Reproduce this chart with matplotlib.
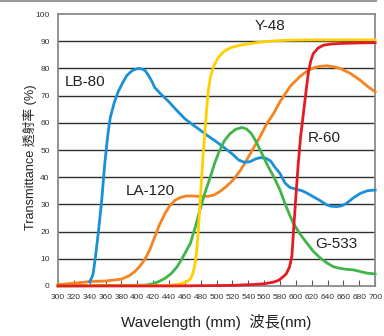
import matplotlib
matplotlib.use('Agg')
import matplotlib.pyplot as plt
from matplotlib import font_manager
from matplotlib.lines import Line2D

# wavelength (nm) / transmittance (%)
lb80_nm = [340, 344, 347, 351, 355, 359, 363, 366, 371, 376, 382, 387, 394, 401, 406, 410, 414, 418, 422,
           430, 439, 450, 460, 470, 479, 490, 500, 509, 520, 528, 535, 542, 549, 555, 562, 568, 574, 580,
           586, 592, 600, 608, 615, 622, 630, 639, 645, 652, 658, 664, 672, 681, 690, 700]
lb80_t = [1.5, 4, 10, 20, 31, 45, 56, 62, 67.5, 71.5, 75, 77.5, 79.3, 80, 79.8, 79.2, 77.5, 75.5, 73,
          70.5, 68, 64.5, 61.5, 59.3, 57.4, 55, 53, 51, 48.5, 46.3, 45.5, 45.7, 46.7, 47.2, 47, 46, 43.5, 41.4,
          38, 36.3, 35.6, 35, 34, 32.8, 31.5, 29.8, 29.3, 29.2, 29.5, 30.4, 32.3, 34, 35, 35.3]

la120_nm = [300, 320, 340, 360, 380, 390, 397, 404, 410, 416, 422, 428, 435, 441, 448, 455, 462, 470, 480,
            490, 497, 504, 512, 521, 530, 538, 546, 555, 563, 572, 580, 593, 605, 614, 622, 630, 639, 648,
            656, 668, 681, 690, 700]
la120_t = [0.5, 1.0, 1.6, 1.8, 2.5, 3.8, 5.3, 7.5, 10, 13.5, 18, 22.5, 26.7, 29.5, 31.6, 32.6, 33.1, 33.1, 32.9,
           33, 33.5, 34.7, 36.5, 39, 42.5, 46.3, 50.5, 55, 59.5, 63.5, 67.8, 73.5, 77, 79, 80.2, 80.8, 81, 80.6,
           80, 78.3, 75.7, 73.5, 71.4]

y48_nm = [300, 440, 455, 462, 467, 470, 473, 475, 477, 479, 481, 483, 485.5, 487.5, 489.6, 492, 496, 502,
          509, 518, 530, 545, 559, 575, 593, 620, 660, 700]
y48_t = [0, 0.2, 0.8, 1.5, 2.5, 4.5, 8.3, 13, 20.6, 30, 39, 48, 57.4, 65, 72, 76.5, 80.6, 84,
         86.2, 87.7, 88.6, 89.3, 89.8, 90.2, 90.4, 90.5, 90.5, 90.5]

g533_nm = [300, 410, 420, 427, 435, 443, 450, 456, 461, 467, 473, 479, 485, 492, 498, 504, 510, 517, 524,
           532, 538, 544, 550, 557, 564, 572, 580, 586, 593, 597, 605, 614, 622, 631, 639, 647, 655, 664,
           673, 681, 690, 700]
g533_t = [0, 0.3, 0.8, 1.6, 2.8, 4.6, 7, 9.8, 12.5, 15.7, 21.5, 28, 34, 40, 45.5, 50, 53.5, 56, 57.6,
          58.3, 57.7, 56, 53, 48.8, 44.5, 40.2, 35.3, 30.5, 25.5, 23, 19.2, 15.7, 12.7, 10.2, 8.5, 7.1, 6.5, 6.1,
          5.9, 5.3, 4.7, 4.4]

r60_nm = [300, 450, 520, 545, 560, 570, 578, 584, 588, 592, 595, 597, 600, 603, 606, 609.5, 613, 616, 619,
          622, 628, 635, 645, 656, 680, 700]
r60_t = [0, 0, 0.2, 0.5, 0.8, 1.3, 2, 3.4, 4.5, 7, 11, 20, 33, 45, 55, 63.5, 72, 79, 83,
         85.5, 87.5, 88.6, 89, 89.2, 89.4, 89.5]

x_ticks = list(range(300, 701, 20))
y_ticks = list(range(0, 101, 10))

installed = {f.name for f in font_manager.fontManager.ttflist}
narrow = 'Liberation Sans Narrow' if 'Liberation Sans Narrow' in installed else 'Liberation Sans'
plt.rcParams['font.family'] = ['Liberation Sans', 'Noto Sans CJK TC', 'DejaVu Sans']

fig = plt.figure(figsize=(3.84, 3.36), dpi=100)
ax = fig.add_axes([0.151, 0.149, 0.826, 0.809])

for y in y_ticks[1:-1]:
    ax.axhline(y, color='#2e2e2e', lw=1.0, zorder=1)

ax.plot(la120_nm, la120_t, color='#f5831f', lw=2.0, zorder=3, clip_on=False)
ax.plot(lb80_nm, lb80_t, color='#1b90d6', lw=2.0, zorder=4, clip_on=False)
ax.plot(g533_nm, g533_t, color='#3fb54a', lw=2.0, zorder=5, clip_on=False)
ax.plot(y48_nm, y48_t, color='#ffcf00', lw=2.0, zorder=6, clip_on=False)
ax.plot(r60_nm, r60_t, color='#e41b23', lw=2.0, zorder=7, clip_on=False)

ax.text(309, 75, 'LB-80', fontsize=11, color='#222222', va='center')
ax.text(567, 95.5, 'Y-48', fontsize=11, color='#222222', va='center', ha='center')
ax.text(615, 54.6, 'R-60', fontsize=11, color='#222222', va='center')
ax.text(386, 35, 'LA-120', fontsize=11, color='#222222', va='center')
ax.text(624, 15.3, 'G-533', fontsize=11, color='#222222', va='center')

ax.set_xlim(300, 700)
ax.set_ylim(0, 100)
ax.set_xticks(x_ticks)
ax.set_yticks(y_ticks)
ax.set_xticklabels([str(v) for v in x_ticks], fontsize=6, family=narrow, color='#333333')
ax.set_yticklabels([str(v) for v in y_ticks], fontsize=6, family=narrow, color='#333333')
ax.tick_params(axis='x', direction='in', length=4, width=0.8, color='#555555', pad=6)
ax.tick_params(axis='y', length=0, pad=6)
for s in ax.spines.values():
    s.set_color('#8a8a8a')
    s.set_linewidth(1.3)

ax.set_xlabel('Wavelength (mm)  波長(nm)', fontsize=11, color='#222222')
ax.set_ylabel('Transmittance 透射率 (%)', fontsize=9.2, color='#222222')
ax.xaxis.set_label_coords(0.5, -0.102)
ax.yaxis.set_label_coords(-0.066, 0.475)

fig.add_artist(Line2D([0, 0.98], [0.996, 0.996], color='#999999', lw=1.5, transform=fig.transFigure))

fig.savefig('out.png', dpi=100)
